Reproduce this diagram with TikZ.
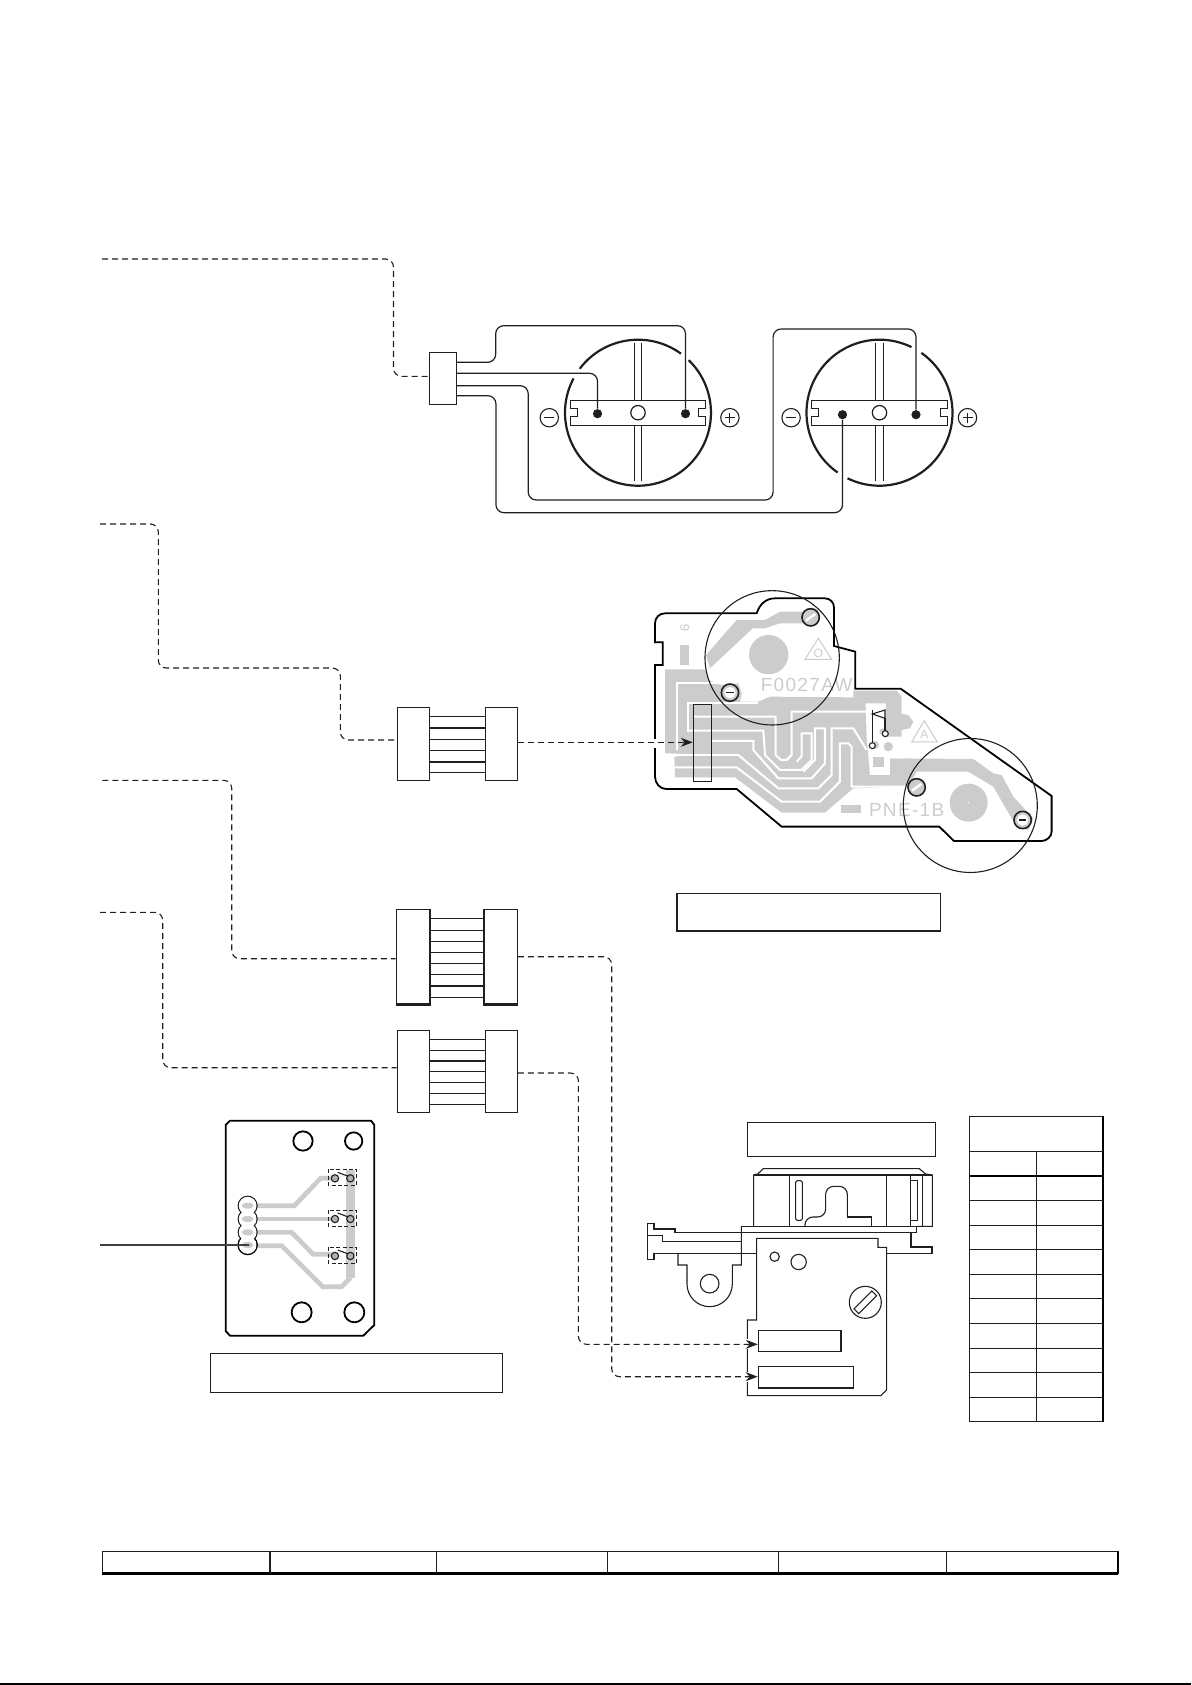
\documentclass[tikz,border=0pt]{standalone}
\usepackage{fontspec}
\usetikzlibrary{arrows.meta}
\newfontfamily\pcbfont[LetterSpace=7]{Liberation Sans}
\definecolor{copper}{gray}{0.8}
\definecolor{ink}{gray}{0.12}
\tikzset{
    blockbox/.style={draw=ink, line width=0.6pt, inner sep=0pt},
    dotpin/.style={circle, fill=ink, inner sep=0pt, minimum size=4.6pt},
    wireline/.style={draw=ink, line width=0.6pt, rounded corners=4pt},
    rimline/.style={draw=ink, line width=1.1pt},
    dashline/.style={draw=ink, line width=0.55pt, dash pattern=on 3pt off 2pt, rounded corners=4pt},
    arrowline/.style={dashline, -{Stealth[length=6pt,width=4.5pt]}},
    thinline/.style={draw=ink, line width=0.55pt},
    boardline/.style={draw=black, line width=0.9pt},
    trace/.style={draw=copper, line width=2.35pt},
    gapline/.style={draw=white, line width=1pt},
    printtext/.style={text=copper, inner sep=0pt, font=\fontsize{9.5}{10}\pcbfont}
}
\begin{document}
\begin{tikzpicture}[x=0.5pt, y=-0.5pt]
    \useasboundingbox (0,0) rectangle (1191,1685);

    % Battery plug and free ends of the dashed runs
    \node[blockbox, minimum width=13.6pt, minimum height=26pt] (plug) at (443,378.3) {};
    \coordinate (endA) at (102,259);
    \coordinate (endB) at (100,524);
    \coordinate (endC) at (102.3,780.3);
    \coordinate (endD) at (100,912.3);

    % Motor contact pins
    \node[dotpin] (pinA) at (685.5,413.7) {};
    \node[dotpin] (pinB) at (597.5,413.7) {};
    \node[dotpin] (pinC) at (916,414.7) {};
    \node[dotpin] (pinD) at (842.5,414.7) {};

    % Motor housings, broken where a wire crosses
    \draw[rimline] (638,412.7) ++(-152:73) arc[start angle=-152, end angle=-406, radius=73];
    \draw[rimline] (638,412.7) ++(-54:73) arc[start angle=-54, end angle=-143, radius=73];
    \draw[rimline] (879.5,412.7) ++(-244:73) arc[start angle=-244, end angle=-415, radius=73];
    \draw[rimline] (879.5,412.7) ++(-64:73) arc[start angle=-64, end angle=-235, radius=73];

    % Contact bars with their centre hole and slots
    \foreach \cx/\barl/\barr in {638/570.3/705.8, 879.5/811.4/947.3} {
        \draw[blockbox] (\barl,400.3) -- (\barr,400.3) -- (\barr,408.3) -- (\barr-7,408.3) -- (\barr-7,416.7)
            -- (\barr,416.7) -- (\barr,425.3) -- (\barl,425.3) -- (\barl,416.7) -- (\barl+7,416.7)
            -- (\barl+7,408.3) -- (\barl,408.3) -- cycle;
        \draw[blockbox] (\cx,412.7) circle (7.2);
        \draw[thinline] (\cx-3.9,342.7) -- (\cx-3.9,400.3);
        \draw[thinline] (\cx+3.9,342.7) -- (\cx+3.9,400.3);
        \draw[thinline] (\cx-3.9,425.3) -- (\cx-3.9,481);
        \draw[thinline] (\cx+3.9,425.3) -- (\cx+3.9,481);
    }

    % Polarity marks
    \foreach \sx in {549.3,791.1,729.9,967.5} {
        \draw[thinline] (\sx,417.7) circle (9.2);
        \draw[thinline] (\sx-5,417.7) -- (\sx+5,417.7);
    }
    \foreach \sx in {729.9,967.5} {
        \draw[thinline] (\sx,412.7) -- (\sx,422.7);
    }

    % Wires from the plug to the pins
    \draw[wireline] (plug.east |- 0,362.3) -- (495.7,362.3) -- (495.7,325.7) -- (685.5,325.7) -- (pinA);
    \draw[wireline] (plug.east |- 0,373.3) -- (597.5,373.3) -- (pinB);
    \draw[wireline] (plug.east |- 0,385.7) -- (528.2,385.7) -- (528.2,500) -- (773.1,500) -- (773.1,329) -- (916,329) -- (pinC);
    \draw[wireline] (plug.east |- 0,395.7) -- (495.9,395.7) -- (495.9,512.7) -- (842.5,512.7) -- (pinD);

    % Flat cable connectors
    \node[blockbox, minimum width=16pt, minimum height=36.5pt] (flatAl) at (413.3,743.8) {};
    \node[blockbox, minimum width=16pt, minimum height=36.5pt] (flatAr) at (501.3,743.8) {};
    \node[blockbox, minimum width=16.5pt, minimum height=47.3pt] (flatBl) at (412.8,956.7) {};
    \node[blockbox, minimum width=16.3pt, minimum height=47.3pt] (flatBr) at (501,956.7) {};
    \node[blockbox, minimum width=16pt, minimum height=41pt] (flatCl) at (413.3,1071.3) {};
    \node[blockbox, minimum width=16pt, minimum height=41pt] (flatCr) at (501.3,1071.3) {};

    \foreach \wy in {716.3,739.3,750.3,772.3} {
        \draw[thinline] (flatAl.east |- 0,\wy) -- (flatAr.west |- 0,\wy);
    }
    \foreach \wy in {727.7,761.7} {
        \draw[thinline, line width=1pt] (flatAl.east |- 0,\wy) -- (flatAr.west |- 0,\wy);
    }
    \foreach \wy in {918.7,930.3,941.3,952.3,963.3,974.3,997.3} {
        \draw[thinline] (flatBl.east |- 0,\wy) -- (flatBr.west |- 0,\wy);
    }
    \draw[thinline, line width=1pt] (flatBl.east |- 0,985.7) -- (flatBr.west |- 0,985.7);
    \draw[draw=ink, line width=1.1pt] (flatBl.north east) -- (flatBl.south east) -- (flatBl.south west);
    \draw[draw=ink, line width=1.1pt] (flatBr.north west) -- (flatBr.south west) -- (flatBr.south east);
    \foreach \wy in {1039.3,1050.3,1071.3,1082.3,1093.3,1104.3} {
        \draw[thinline] (flatCl.east |- 0,\wy) -- (flatCr.west |- 0,\wy);
    }
    \draw[thinline, line width=0.9pt] (flatCl.east |- 0,1060.7) -- (flatCr.west |- 0,1060.7);

    % Printed circuit of the motor board
    \begin{scope}[shift={(630,570)}, scale=0.3333]
        \fill[copper] (105,298) -- (225,298) -- (235,330) -- (275,345) -- (325,340) -- (335,370) -- (330,395) -- (385,395)
            -- (420,380) -- (670,382) -- (670,362) -- (800,362) -- (815,380) -- (815,432) -- (835,435)
            -- (850,455) -- (840,475) -- (815,480) -- (815,500) -- (775,505) -- (775,565) -- (1030,567)
            -- (1090,610) -- (1115,615) -- (1150,680) -- (1210,745) -- (1195,780) -- (1160,770) -- (1130,720)
            -- (1090,650) -- (1015,605) -- (860,605) -- (835,650) -- (670,655) -- (585,728) -- (455,728)
            -- (315,622) -- (135,622) -- (133,560) -- (190,553) -- (105,550) -- cycle;
        \fill[copper] (228,255) -- (320,150) -- (405,150) -- (450,125) -- (520,125) -- (520,160) -- (450,160)
            -- (405,175) -- (368,175) -- (240,295) -- cycle;
        \fill[copper] (416,254) circle (59);
        \fill[copper] (1016,698) circle (57);
        \fill[white] (1016,698) circle (2);
        \fill[copper] (150,225) rectangle (177,285);
        \fill[copper] (632,705) rectangle (692,728);

        % Gaps between the copper tracks
        \begin{scope}[shift={(210,330)}]
            \draw[gapline] (-70,210) -- (-70,8) -- (60,8);
            \draw[gapline] (-35,155) -- (-35,68) -- (175,68);
            \draw[gapline] (-20,110) -- (227,110) -- (227,225) -- (243,240) -- (260,240) -- (275,225) -- (275,95) -- (505,95);
            \draw[gapline] (-35,152) -- (190,152) -- (195,225) -- (240,270) -- (305,270) -- (335,240) -- (335,160) -- (305,160) -- (305,230) -- (290,245);
            \draw[gapline] (35,183) -- (160,183) -- (160,210) -- (235,295) -- (335,295) -- (375,250) -- (375,145) -- (345,145) -- (345,240) -- (310,275);
            \draw[gapline] (-105,225) -- (115,225) -- (235,325) -- (355,325) -- (395,285) -- (395,145) -- (460,145) -- (500,210);
            \draw[gapline] (-75,262) -- (110,262) -- (245,365) -- (360,365) -- (420,305) -- (420,190) -- (445,190) -- (455,200) -- (455,320) -- (620,320);
            \fill[white] (497,70) -- (558,70) -- (558,170) -- (605,170) -- (605,235) -- (570,235) -- (570,285)
                -- (510,285) -- (505,225) -- (500,170) -- cycle;
            \fill[copper] (520,230) rectangle (553,262);
            \fill[copper] (565,200) circle (14);
            \fill[copper] (548,155) circle (10);
            \fill[copper] (525,195) circle (12);
        \end{scope}

        % Board outline, open where the dashed run enters
        \draw[boardline] (200,130) -- (380,130) .. controls (390,100) and (410,85) .. (435,85) -- (585,85)
            .. controls (600,85) and (612,97) .. (612,112) -- (612,228) -- (676,245) -- (676,356) -- (812,356)
            -- (1265,678) -- (1265,785) .. controls (1265,800) and (1250,813) .. (1235,813) -- (972,813)
            -- (928,770) -- (455,770) -- (320,657) -- (108,657) .. controls (90,657) and (75,640) .. (75,620)
            -- (75,285) -- (98,285) -- (98,217) -- (75,217) -- (75,160) .. controls (75,143) and (88,130) .. (105,130) -- cycle;
        \fill[white] (65,507) rectangle (85,533);

        % Printed marks
        \node[printtext, font=\fontsize{6.5}{7}\selectfont\pcbfont, rotate=90] (mark6) at (165,175) {6};
        \node[printtext] (markF) at (530,345) {F0027AW};
        \node[printtext] (markP) at (830,720) {PNE-1B};
        \draw[copper, line width=0.5pt] (565,205) -- (525,268) -- (605,268) -- cycle;
        \draw[copper, line width=0.5pt] (883,452) -- (845,516) -- (922,516) -- cycle;
        \node[printtext, font=\fontsize{6}{7}\pcbfont] (markO) at (565,250) {O};
        \node[printtext, font=\fontsize{6}{7}\pcbfont] (markA) at (883,492) {A};

        % Motor circles and screw pads
        \draw[thinline] (426.5,263.5) circle (201.5);
        \draw[thinline] (1021,706.5) circle (201);
        \foreach \px/\py in {542/142, 860/652} {
            \fill[copper] (\px,\py) circle (26);
            \draw[white, line width=1.2pt] (\px-14,\py+10) -- (\px+14,\py-10);
            \draw[thinline, line width=0.8pt] (\px,\py) circle (26);
        }
        \foreach \px/\py in {300/368, 1178/750} {
            \fill[copper] (\px,\py) circle (26);
            \fill[white] (\px,\py) circle (17);
            \draw[thinline, line width=0.8pt] (\px,\py) circle (26);
            \draw[thinline, line width=0.7pt] (\px-11,\py) -- (\px+11,\py);
        }

        % Switch flag on the board
        \draw[thinline] (727,432) -- (765,420) -- (765,445) -- cycle;
        \draw[thinline] (727,420) -- (727,518);
        \draw[thinline] (765,445) -- (765,482);
        \draw[thinline, fill=white] (727,527) circle (9);
        \draw[thinline, fill=white] (766,491) circle (9);

        \node[blockbox, thinline, minimum width=9.2pt, minimum height=38.5pt] (boardslot) at (217.5,518.5) {};
    \end{scope}

    \node[blockbox, minimum width=131.8pt, minimum height=18.8pt] (boardlabel) at (808.8,912.1) {};

    % Optical pickup
    \begin{scope}[shift={(630,1110)}, scale=0.3333]
        \node[blockbox, minimum width=94.2pt, minimum height=17pt] (pickuplabel) at (634.5,88) {};
        \draw[thinline] (371,349) -- (371,195) -- (383,192) -- (400,176) -- (868,176) -- (887,192) -- (907,195) -- (907,349) -- (860,349);
        \draw[thinline] (371,195) -- (907,195);
        \foreach \vx in {479,770,842,878} {
            \draw[thinline] (\vx,195) -- (\vx,349);
        }
        \draw[thinline, rounded corners=1pt] (497,212) rectangle (517,331);
        \draw[thinline] (842,212) -- (862,212) -- (862,331) -- (842,331);
        \draw[thinline, rounded corners=4pt] (525,349) -- (525,321) -- (587,321) -- (587,229) -- (652,229) -- (652,321);
        \draw[thinline] (652,321) -- (725,321) -- (725,349);
        \draw[thinline] (334,349) -- (860,349) -- (860,367) -- (334,367);
        \draw[thinline] (334,349) -- (334,465) -- (307,465) -- (307,522) arc[start angle=0, end angle=180, radius=68]
            -- (171,465) -- (144,465) -- (144,431);
        \draw[thinline] (239,521) circle (28);
        \draw[thinline] (334,367) -- (135,367) -- (135,357) -- (72,357) -- (72,340) -- (52,340) -- (52,448) -- (72,448)
            -- (72,431) -- (380,431);
        \draw[thinline] (52,376) -- (98,376) -- (98,394) -- (334,394);
        \draw[thinline] (380,431) -- (380,385) -- (744,385) -- (744,412) -- (770,412) -- (770,840) -- (752,857)
            -- (352,857) -- (352,630) -- (380,630) -- (380,431);
        \draw[thinline] (843,367) -- (843,411) -- (906,411) -- (906,431) -- (770,431);
        \draw[thinline] (434,440) circle (14);
        \draw[thinline] (506,456) circle (23);
        \draw[thinline] (706,577) circle (48);
        \draw[thinline, rotate around={45:(706,577)}] (668,567) rectangle (744,587);
        \fill[white] (346,688) rectangle (358,718);
        \fill[white] (346,786) rectangle (358,816);
        \node[blockbox, minimum width=41.3pt, minimum height=10.7pt] (pickupA) at (509,693) {};
        \node[blockbox, minimum width=47.5pt, minimum height=10.7pt] (pickupB) at (527.5,802) {};
    \end{scope}

    % Dashed runs
    \draw[dashline] (endA) -- (393.5,259) -- (393.5,376.3) -- (plug.west |- 0,376.3);
    \draw[dashline] (endB) -- (158.3,524) -- (158.3,668) -- (340.3,668) -- (340.3,740) -- (flatAl.west |- 0,740);
    \draw[dashline] (endC) -- (231.7,780.3) -- (231.7,958.7) -- (flatBl.west |- 0,958.7);
    \draw[dashline] (endD) -- (162.7,912.3) -- (162.7,1067.7) -- (flatCl.west |- 0,1067.7);
    \draw[arrowline] (flatAr.east |- 0,742.3) -- (boardslot.west |- 0,742.3);
    \draw[arrowline] (flatBr.east |- 0,956.7) -- (611.7,956.7) -- (611.7,1376.7) -- (pickupB.west |- 0,1376.7);
    \draw[arrowline] (flatCr.east |- 0,1073) -- (578.4,1073) -- (578.4,1344.3) -- (pickupA.west |- 0,1344.3);

    % Switch board
    \begin{scope}[shift={(200,1110)}, scale=0.3333]
        \draw[boardline] (90,32) -- (513,32) -- (523,45) -- (523,645) -- (490,677) -- (90,677) -- (77,663) -- (77,45) -- cycle;
        \foreach \hx/\hy/\hr in {309/93/29, 461/93/26, 305/607/30, 463/607/30} {
            \draw[boardline] (\hx,\hy) circle (\hr);
        }
        \draw[trace] (143,287) -- (283,287) -- (362,205) -- (405,205);
        \draw[trace] (143,327) -- (405,327);
        \draw[trace] (143,367) -- (275,367) -- (340,433) -- (405,433);
        \draw[trace] (143,407) -- (245,407) -- (368,530) -- (425,530) -- (452,503);
        \draw[trace, line width=4.5pt] (452,503) -- (452,180);
        \foreach \ly in {287,327,367} {
            \draw[thinline, line width=0.7pt] (143,\ly) circle (28);
        }
        \draw[boardline] (143,405) circle (28);
        \foreach \ly in {287,327,367,405} {
            \fill[white] (143,\ly) circle (26.5);
        }
        \foreach \ly in {287,327,367,405} {
            \fill[copper] (143,\ly) ellipse (18 and 9);
        }
        \foreach \by/\ty in {178/205, 301/327, 412/438} {
            \draw[thinline, dash pattern=on 2pt off 1.2pt] (385,\by) rectangle (470,\by+48);
            \draw[thinline, fill=gray!60] (405,\ty) circle (11);
            \draw[thinline, fill=gray!60] (451,\ty) circle (11);
            \draw[thinline] (413,\ty-18) -- (445,\ty-6);
        }
        \coordinate (padE) at (148,405);
        \node[blockbox, minimum width=146.2pt, minimum height=19.7pt] (switchlabel) at (469.5,789) {};
    \end{scope}
    \coordinate (endF) at (100,1245);
    \draw[draw=ink!85, line width=0.9pt] (endF) -- (padE);

    % Table
    \draw[thinline, line width=0.7pt] (969.3,1116.3) rectangle (1103,1421.7);
    \draw[draw=black, line width=1pt] (1103,1116.3) -- (1103,1421.7);
    \foreach \ry in {1151.3,1200.3,1225.3,1249.3,1274.3,1298.3,1323.3,1348.3,1372.3,1397.3} {
        \draw[thinline, line width=0.7pt] (969.3,\ry) -- (1103,\ry);
    }
    \draw[draw=black, line width=1.2pt] (969.3,1175.7) -- (1103,1175.7);
    \draw[thinline, line width=0.7pt] (1036.3,1151.3) -- (1036.3,1421.7);

    % Title strip
    \draw[thinline, line width=0.7pt] (102.3,1551.7) rectangle (1117.9,1573.3);
    \draw[draw=black, line width=1.6pt] (102.3,1573.3) -- (1117.9,1573.3);
    \draw[draw=black, line width=1.2pt] (1117.9,1551.7) -- (1117.9,1573.3);
    \foreach \cx in {270,436.3,607.4,778.4,946.8} {
        \draw[thinline] (\cx,1551.7) -- (\cx,1573.3);
    }
    \draw[draw=black, line width=0.8pt] (0,1684) -- (1191,1684);
\end{tikzpicture}
\end{document}
